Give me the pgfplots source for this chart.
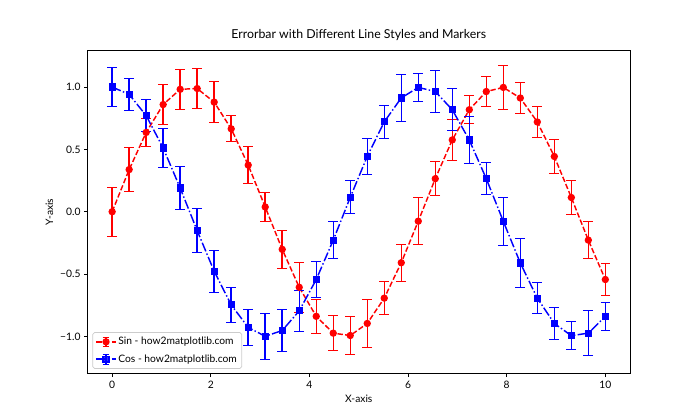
\documentclass[border=0pt]{standalone}
\usepackage{pgfplots}
\usepackage{pgfplotstable}
\pgfplotsset{compat=1.18}
\usepackage{fontspec}
\setmainfont{Lato}[Scale=1.06]
\definecolor{legedge}{gray}{0.8}
\pgfplotstableread{
x sin esin cos ecos
0.00000 0.000 0.197 1.000 0.154
0.34483 0.338 0.174 0.941 0.128
0.68966 0.636 0.114 0.771 0.127
1.03448 0.860 0.161 0.511 0.155
1.37931 0.982 0.158 0.190 0.174
1.72414 0.988 0.163 -0.152 0.175
2.06897 0.879 0.163 -0.478 0.166
2.41379 0.665 0.104 -0.747 0.139
2.75862 0.374 0.147 -0.928 0.146
3.10345 0.038 0.120 -0.999 0.183
3.44828 -0.302 0.155 -0.953 0.170
3.79310 -0.606 0.200 -0.795 0.165
4.13793 -0.839 0.139 -0.544 0.143
4.48276 -0.974 0.142 -0.228 0.150
4.82759 -0.993 0.151 0.115 0.133
5.17241 -0.896 0.193 0.444 0.142
5.51724 -0.693 0.134 0.721 0.135
5.86207 -0.409 0.147 0.913 0.191
6.20690 -0.076 0.190 0.997 0.115
6.55172 0.265 0.134 0.964 0.169
6.89655 0.576 0.162 0.818 0.169
7.24138 0.818 0.112 0.575 0.190
7.58621 0.964 0.118 0.265 0.127
7.93103 0.997 0.179 -0.077 0.190
8.27586 0.912 0.123 -0.411 0.195
8.62069 0.720 0.126 -0.694 0.126
8.96552 0.443 0.139 -0.896 0.126
9.31034 0.114 0.139 -0.994 0.114
9.65517 -0.228 0.146 -0.974 0.179
10.00000 -0.544 0.130 -0.839 0.111
}\datatable
\begin{document}
\begin{tikzpicture}
\begin{axis}[
  name=ax, scale only axis, width=7.75in, height=4.62in,
  xmin=-0.5, xmax=10.5, ymin=-1.30, ymax=1.294,
  axis line style={line width=0.8pt},
  tick align=outside, tick pos=left, major tick length=3.5pt,
  tick style={line width=0.8pt, black},
  xtick={0,2,4,6,8,10},
  ytick={-1,-0.5,0,0.5,1},
  yticklabels={−1.0,−0.5,0.0,0.5,1.0},
  /pgf/number format/assume math mode=true,
  ticklabel style={font=\fontsize{10}{12}\selectfont},
  title={Errorbar with Different Line Styles and Markers},
  title style={font=\fontsize{12}{14}\selectfont},
  xlabel={X-axis}, ylabel={Y-axis},
  label style={font=\fontsize{10}{12}\selectfont},
  legend style={at={(0,0)}, anchor=south west, xshift=5pt, yshift=5pt,
    font=\fontsize{10}{12}\selectfont, draw=legedge, line width=0.8pt,
    rounded corners=2pt, fill=white, fill opacity=0.8, text opacity=1,
    inner xsep=3pt, inner ysep=3pt, row sep=4.5pt,
    nodes={inner sep=2pt, anchor=west}},
  legend cell align=left,
  legend image code/.code={
    \draw[#1,mark=none] (0pt,0pt) -- (20pt,0pt);
    \draw[#1,solid,mark=none] (10pt,-5pt) -- (10pt,5pt);
    \draw[#1,solid,mark=none,line width=1pt] (6.5pt,-5pt) -- (13.5pt,-5pt) (6.5pt,5pt) -- (13.5pt,5pt);
    \draw[#1] plot coordinates {(10pt,0pt)};
  },
]
\addplot[red, line width=1.5pt, dash pattern=on 5.55pt off 2.4pt,
  mark=*, mark size=3pt, mark options={solid, fill=red, draw=red},
  error bars/.cd, y dir=both, y explicit,
  error bar style={solid, line width=1.5pt, draw=red},
  error mark options={rotate=90, mark size=5pt, solid, line width=1pt, draw=red}]
  table[x=x, y=sin, y error=esin] {\datatable};
\addlegendentry{Sin - how2matplotlib.com}
\addplot[blue, line width=1.5pt, dash pattern=on 9.6pt off 2.4pt on 1.5pt off 2.4pt,
  mark=square*, mark size=3pt, mark options={solid, fill=blue, draw=blue},
  error bars/.cd, y dir=both, y explicit,
  error bar style={solid, line width=1.5pt, draw=blue},
  error mark options={rotate=90, mark size=5pt, solid, line width=1pt, draw=blue}]
  table[x=x, y=cos, y error=ecos] {\datatable};
\addlegendentry{Cos - how2matplotlib.com}
\end{axis}
\path[use as bounding box] ([xshift=-1.25in,yshift=-0.66in]ax.south west) rectangle ([xshift=1.0in,yshift=0.72in]ax.north east);
\end{tikzpicture}
\end{document}
